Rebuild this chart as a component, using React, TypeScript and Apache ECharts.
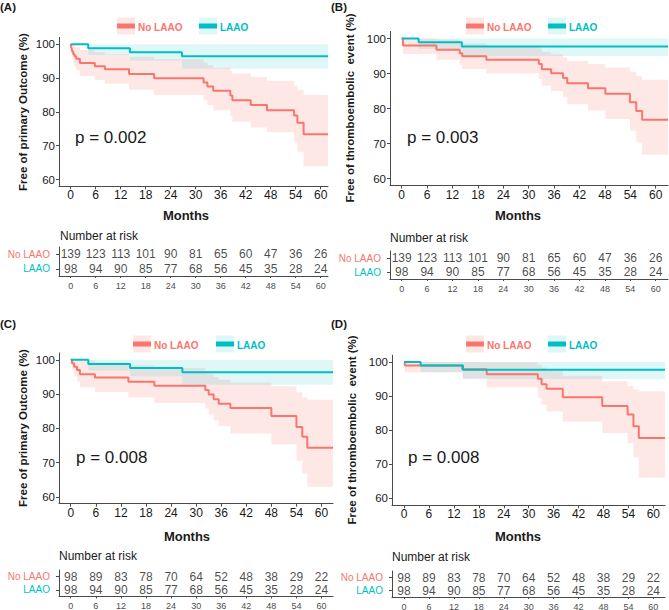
import React, { useEffect, useRef } from "react";
import * as echarts from "echarts";

const FONT = "'Liberation Sans', Arial, Helvetica, sans-serif";
const RED = "#F8766D";
const TEAL = "#00BFC4";
const RED_FILL = "rgba(248,118,109,0.17)";
const TEAL_FILL = "rgba(0,191,196,0.12)";
const AXIS_COLOR = "#4a4a4a";
const TEXT_COLOR = "#1a1a1a";

// ---------- data ----------
const MONTH_TICKS = [0, 6, 12, 18, 24, 30, 36, 42, 48, 54, 60];
const PCT_TICKS = [60, 70, 80, 90, 100];
const GROUPS = ["No LAAO", "LAAO"];
const RISK_ROWS = ["LAAO", "No LAAO"];
const PANEL_TAGS = ["(A)", "(B)", "(C)", "(D)"];
const Y_TITLES = [
  "Free of primary Outcome (%)",
  "Free of thromboembolic  event (%)",
  "Free of primary Outcome (%)",
  "Free of thromboembolic  event (%)",
];
const P_TEXTS = ["p = 0.002", "p = 0.003", "p = 0.008", "p = 0.008"];
const FOLLOW_UP_END = [61.75, 62.9, 62.75, 62.8];

// Kaplan-Meier steps: [month, survival %, lower CI %, upper CI %]
const A_NO_LAAO = [
  [0, 100, 100, 100],
  [0.1, 99.3, 97.9, 100],
  [0.25, 98.6, 96.6, 100],
  [0.4, 97.8, 95.4, 100],
  [0.6, 97.1, 94.4, 99.9],
  [0.9, 96.4, 93.4, 99.5],
  [1.3, 95.7, 92.3, 99.1],
  [2.2, 94.4, 90.6, 98.3],
  [5.8, 93.5, 89.4, 97.6],
  [8.2, 92.6, 88.3, 97.0],
  [14.0, 91.2, 86.5, 96.3],
  [20.0, 89.9, 85.0, 95.6],
  [31.9, 88.7, 83.4, 94.6],
  [32.8, 87.5, 82.0, 93.8],
  [34.2, 86.2, 80.5, 93.0],
  [38.3, 84.8, 78.8, 92.2],
  [38.8, 83.4, 77.1, 91.3],
  [43.2, 82.0, 75.4, 90.3],
  [47.1, 80.5, 74.0, 89.2],
  [53.6, 78.9, 71.2, 87.7],
  [54.4, 76.8, 68.2, 86.5],
  [55.9, 73.4, 63.9, 85.0],
];
const LAAO_PRIMARY = [
  [0, 100, 100, 100],
  [4.2, 98.8, 96.8, 100],
  [14.2, 97.6, 95.1, 100],
  [26.7, 96.4, 92.7, 100],
];
const B_NO_LAAO = [
  [0, 100, 100, 100],
  [0.3, 98.0, 95.6, 100],
  [8.2, 96.8, 93.9, 99.7],
  [13.7, 95.8, 92.5, 99.2],
  [14.3, 94.9, 91.3, 98.6],
  [20.0, 93.9, 90.0, 98.0],
  [32.4, 92.7, 88.4, 97.2],
  [33.1, 91.2, 86.5, 96.2],
  [35.3, 90.1, 85.0, 95.5],
  [38.1, 88.7, 83.2, 94.6],
  [39.1, 87.2, 81.2, 93.6],
  [44.0, 85.8, 79.4, 92.7],
  [48.1, 84.2, 77.0, 91.7],
  [53.9, 81.8, 73.7, 90.5],
  [55.4, 79.3, 70.3, 89.3],
  [56.8, 76.8, 66.8, 88.2],
];
const LAAO_THROMBO = [
  [0, 100, 100, 100],
  [4.0, 98.95, 97.0, 100],
  [14.2, 97.7, 95.0, 100],
];
const C_NO_LAAO = [
  [0, 100, 100, 100],
  [0.3, 99.0, 97.0, 100],
  [0.8, 98.0, 95.2, 100],
  [1.5, 97.0, 93.7, 100],
  [2.2, 95.8, 92.0, 99.8],
  [5.8, 94.8, 90.6, 99.2],
  [13.8, 93.6, 89.0, 98.4],
  [20.0, 92.4, 87.4, 97.6],
  [32.2, 91.2, 85.8, 96.8],
  [33.0, 89.9, 84.1, 95.9],
  [34.2, 88.5, 82.3, 95.0],
  [35.4, 87.2, 80.6, 94.2],
  [38.2, 85.9, 78.5, 93.4],
  [48.0, 83.6, 75.3, 92.3],
  [54.0, 80.4, 70.5, 90.5],
  [55.4, 77.5, 66.8, 89.0],
  [56.6, 74.3, 62.9, 88.3],
];
const D_NO_LAAO = [
  [0, 100, 100, 100],
  [0.2, 99.0, 97.0, 100],
  [14.0, 97.9, 95.2, 100],
  [19.9, 96.4, 92.5, 99.9],
  [32.2, 95.1, 89.5, 99.3],
  [33.1, 93.5, 87.5, 98.4],
  [34.3, 92.2, 85.5, 97.6],
  [38.2, 89.7, 82.5, 96.0],
  [47.7, 87.1, 79.2, 94.4],
  [53.8, 84.6, 76.2, 93.0],
  [55.2, 81.2, 72.0, 92.0],
  [56.5, 77.7, 66.1, 91.4],
];

// Number at risk at MONTH_TICKS
const RISK_AB_NO_LAAO = [139, 123, 113, 101, 90, 81, 65, 60, 47, 36, 26];
const RISK_CD_NO_LAAO = [98, 89, 83, 78, 70, 64, 52, 48, 38, 29, 22];
const RISK_LAAO = [98, 94, 90, 85, 77, 68, 56, 45, 35, 28, 24];

const PANELS = [
  { noLaao: A_NO_LAAO, laao: LAAO_PRIMARY, riskNo: RISK_AB_NO_LAAO, riskLaao: RISK_LAAO },
  { noLaao: B_NO_LAAO, laao: LAAO_THROMBO, riskNo: RISK_AB_NO_LAAO, riskLaao: RISK_LAAO },
  { noLaao: C_NO_LAAO, laao: LAAO_PRIMARY, riskNo: RISK_CD_NO_LAAO, riskLaao: RISK_LAAO },
  { noLaao: D_NO_LAAO, laao: LAAO_THROMBO, riskNo: RISK_CD_NO_LAAO, riskLaao: RISK_LAAO },
];

// ---------- layout (pixels) ----------
const LAYOUT = [
  { left: 59, top: 37.4, width: 269, height: 148.9, xMin: -2.81, xMax: 61.75, rTop: 247, rHeight: 29,
    tag: [0, 7], ytitle: [22.5, 112], pval: [75, 137], months: [186, 215], nar: [60, 236],
    legY: 26, redKey: 117, redText: 138, tealKey: 199, tealText: 220 },
  { left: 390, top: 31.5, width: 278, height: 154, xMin: -2.76, xMax: 62.9, rTop: 251, rHeight: 28,
    tag: [331, 7], ytitle: [350, 108], pval: [407, 137], months: [518, 215], nar: [390, 238],
    legY: 26, redKey: 466, redText: 487, tealKey: 548, tealText: 569 },
  { left: 59, top: 352.95, width: 274, height: 150.7, xMin: -2.81, xMax: 62.75, rTop: 570, rHeight: 26.5,
    tag: [0, 324], ytitle: [22.5, 428], pval: [76, 457], months: [187, 536], nar: [59, 556],
    legY: 344, redKey: 133, redText: 154, tealKey: 216, tealText: 237 },
  { left: 392, top: 355.2, width: 273, height: 150.1, xMin: -2.89, xMax: 62.8, rTop: 571, rHeight: 26,
    tag: [331, 324], ytitle: [352, 430], pval: [408, 457], months: [518, 536], nar: [392, 557],
    legY: 344, redKey: 466, redText: 487, tealKey: 548, tealText: 569 },
];

function stepPoints(steps: number[][], end: number) {
  const pts = steps.map((s) => [s[0], s[1]]);
  pts.push([end, steps[steps.length - 1][1]]);
  return pts;
}

function bandRenderer(steps: number[][], end: number, fill: string) {
  return (_params: any, api: any) => {
    const pts: number[][] = [];
    const n = steps.length;
    for (let k = 0; k < n; k++) {
      const t1 = k + 1 < n ? steps[k + 1][0] : end;
      pts.push(api.coord([steps[k][0], steps[k][3]]));
      pts.push(api.coord([t1, steps[k][3]]));
    }
    for (let k = n - 1; k >= 0; k--) {
      const t1 = k + 1 < n ? steps[k + 1][0] : end;
      pts.push(api.coord([t1, steps[k][2]]));
      pts.push(api.coord([steps[k][0], steps[k][2]]));
    }
    return { type: "polygon", shape: { points: pts }, style: { fill, stroke: "none" }, silent: true };
  };
}

function text(x: number, y: number, str: string, o: any = {}) {
  const align = o.align || "left";
  return {
    type: "text",
    x,
    y,
    rotation: o.rotation || 0,
    silent: true,
    style: {
      text: str,
      fill: o.color || TEXT_COLOR,
      fontSize: o.size || 12,
      fontWeight: o.weight || "normal",
      fontFamily: FONT,
      textAlign: align,
      align,
      textVerticalAlign: "middle",
      verticalAlign: "middle",
    },
  };
}

function buildOption() {
  const grids: any[] = [];
  const xAxes: any[] = [];
  const yAxes: any[] = [];
  const bandSeries: any[] = [];
  const lineSeries: any[] = [];
  const riskSeries: any[] = [];
  const graphics: any[] = [];

  PANELS.forEach((p, i) => {
    const L = LAYOUT[i];
    const end = FOLLOW_UP_END[i];
    const gMain = 2 * i;
    const gRisk = 2 * i + 1;
    grids.push({ left: L.left, top: L.top, width: L.width, height: L.height, containLabel: false, outerBoundsMode: "none" });
    grids.push({ left: L.left, top: L.rTop, width: L.width, height: L.rHeight, containLabel: false, outerBoundsMode: "none" });

    xAxes.push({
      type: "value",
      gridIndex: gMain,
      min: L.xMin,
      max: L.xMax,
      axisLine: { show: true, onZero: false, lineStyle: { color: AXIS_COLOR, width: 1 } },
      axisTick: { show: true, length: 3, customValues: MONTH_TICKS, lineStyle: { color: AXIS_COLOR } },
      axisLabel: { customValues: MONTH_TICKS, fontSize: 12, color: TEXT_COLOR, margin: 3, fontFamily: FONT },
      splitLine: { show: false },
    });
    yAxes.push({
      type: "value",
      gridIndex: gMain,
      min: 58,
      max: 102,
      axisLine: { show: true, onZero: false, lineStyle: { color: AXIS_COLOR, width: 1 } },
      axisTick: { show: true, length: 3, customValues: PCT_TICKS, lineStyle: { color: AXIS_COLOR } },
      axisLabel: { customValues: PCT_TICKS, fontSize: 11.5, color: TEXT_COLOR, margin: 4, fontFamily: FONT },
      splitLine: { show: false },
    });
    xAxes.push({
      type: "value",
      gridIndex: gRisk,
      min: L.xMin,
      max: L.xMax,
      axisLine: { show: true, onZero: false, lineStyle: { color: AXIS_COLOR, width: 1 } },
      axisTick: { show: true, length: 2, customValues: MONTH_TICKS, lineStyle: { color: AXIS_COLOR } },
      axisLabel: { customValues: MONTH_TICKS, fontSize: 9, color: "#4d4d4d", margin: 5, fontFamily: FONT },
      splitLine: { show: false },
    });
    yAxes.push({
      type: "category",
      gridIndex: gRisk,
      data: RISK_ROWS,
      axisLine: { show: true, onZero: false, lineStyle: { color: AXIS_COLOR, width: 1 } },
      axisTick: { show: true, alignWithLabel: true, interval: 0, length: 3, lineStyle: { color: AXIS_COLOR } },
      axisLabel: {
        interval: 0,
        hideOverlap: false,
        fontSize: 10,
        margin: 9,
        fontFamily: FONT,
        color: (v: string) => (v === GROUPS[0] ? RED : TEAL),
      },
      splitLine: { show: false },
    });

    bandSeries.push({
      type: "custom",
      xAxisIndex: gMain,
      yAxisIndex: gMain,
      silent: true,
      data: [[0, 100]],
      renderItem: bandRenderer(p.noLaao, end, RED_FILL),
    });
    bandSeries.push({
      type: "custom",
      xAxisIndex: gMain,
      yAxisIndex: gMain,
      silent: true,
      data: [[0, 100]],
      renderItem: bandRenderer(p.laao, end, TEAL_FILL),
    });
    lineSeries.push({
      type: "line",
      name: GROUPS[0],
      xAxisIndex: gMain,
      yAxisIndex: gMain,
      step: "end",
      showSymbol: false,
      symbol: "none",
      silent: true,
      lineStyle: { color: RED, width: 2 },
      itemStyle: { color: RED },
      data: stepPoints(p.noLaao, end),
    });
    lineSeries.push({
      type: "line",
      name: GROUPS[1],
      xAxisIndex: gMain,
      yAxisIndex: gMain,
      step: "end",
      showSymbol: false,
      symbol: "none",
      silent: true,
      lineStyle: { color: TEAL, width: 2 },
      itemStyle: { color: TEAL },
      data: stepPoints(p.laao, end),
    });

    const riskLabel = {
      show: true,
      position: "inside",
      fontSize: 12,
      color: TEXT_COLOR,
      fontFamily: FONT,
      formatter: (q: any) => String(q.value[2]),
    };
    riskSeries.push({
      type: "scatter",
      xAxisIndex: gRisk,
      yAxisIndex: gRisk,
      symbolSize: 1,
      silent: true,
      itemStyle: { color: "rgba(0,0,0,0)" },
      label: riskLabel,
      data: MONTH_TICKS.map((t, k) => [t, 1, p.riskNo[k]]),
    });
    riskSeries.push({
      type: "scatter",
      xAxisIndex: gRisk,
      yAxisIndex: gRisk,
      symbolSize: 1,
      silent: true,
      itemStyle: { color: "rgba(0,0,0,0)" },
      label: riskLabel,
      data: MONTH_TICKS.map((t, k) => [t, 0, p.riskLaao[k]]),
    });

    // texts
    graphics.push(text(L.tag[0], L.tag[1], PANEL_TAGS[i], { size: 11.5, weight: "bold" }));
    graphics.push(text(L.ytitle[0], L.ytitle[1], Y_TITLES[i], { size: 11.5, weight: "bold", align: "center", rotation: Math.PI / 2 }));
    graphics.push(text(L.pval[0], L.pval[1], P_TEXTS[i], { size: 17 }));
    graphics.push(text(L.months[0], L.months[1], "Months", { size: 13, weight: "bold", align: "center" }));
    graphics.push(text(L.nar[0], L.nar[1], "Number at risk", { size: 12 }));

    // legend
    const ky = L.legY;
    graphics.push({ type: "rect", silent: true, shape: { x: L.redKey, y: ky - 8.5, width: 18, height: 17 }, style: { fill: RED_FILL } });
    graphics.push({ type: "line", silent: true, shape: { x1: L.redKey, y1: ky, x2: L.redKey + 18, y2: ky }, style: { stroke: RED, lineWidth: 5 } });
    graphics.push(text(L.redText, ky + 1, GROUPS[0], { size: 10, weight: "bold", color: RED }));
    graphics.push({ type: "rect", silent: true, shape: { x: L.tealKey, y: ky - 8.5, width: 18, height: 17 }, style: { fill: TEAL_FILL } });
    graphics.push({ type: "line", silent: true, shape: { x1: L.tealKey, y1: ky, x2: L.tealKey + 18, y2: ky }, style: { stroke: TEAL, lineWidth: 5 } });
    graphics.push(text(L.tealText, ky + 1, GROUPS[1], { size: 10, weight: "bold", color: TEAL }));
  });

  return {
    animation: false,
    backgroundColor: "#ffffff",
    textStyle: { fontFamily: FONT },
    grid: grids,
    xAxis: xAxes,
    yAxis: yAxes,
    series: [...bandSeries, ...lineSeries, ...riskSeries],
    graphic: { elements: graphics },
  };
}

export default function App() {
  const ref = useRef<HTMLDivElement>(null);
  useEffect(() => {
    if (!ref.current) return;
    const chart = echarts.init(ref.current, undefined, { renderer: "svg" });
    chart.setOption(buildOption() as any);
    return () => chart.dispose();
  }, []);
  return (
    <div
      ref={ref}
      style={{ position: "absolute", left: 0, top: 0, width: 669, height: 610, background: "#fff" }}
    />
  );
}
